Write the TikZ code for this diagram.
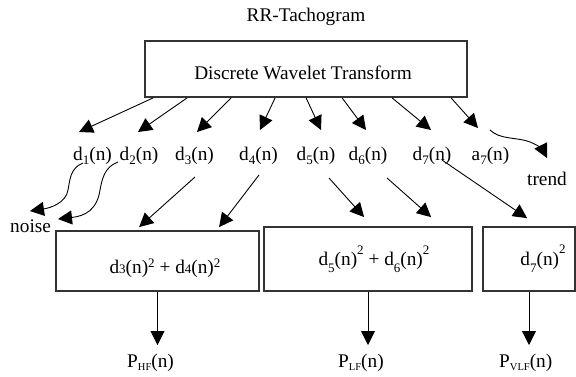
\documentclass[tikz,border=0pt]{standalone}
\usepackage{fontspec}
\setmainfont{Liberation Serif}
\usetikzlibrary{arrows.meta}
\newcommand{\fs}{\fontsize{19.3}{22}\selectfont}
\newcommand{\smd}{\fontsize{13}{13}\selectfont}
\newcommand{\sbx}[2]{\raisebox{#1}{\smd #2}}
\newcommand{\psub}[1]{\raisebox{-3pt}{\fontsize{10.5}{10.5}\selectfont #1}}
\begin{document}
\begin{tikzpicture}[x=1pt,y=-1pt,
  every node/.style={font=\fs, inner sep=0pt},
  box/.style={draw=black!80, line width=1.8pt},
  arr/.style={-{Triangle[length=14pt,width=14pt]}, line width=0.9pt},
  lbl/.style={anchor=base}]
\useasboundingbox (0,0) rectangle (576,376);

% title and DWT box
\node[lbl] (title) at (306,21) {RR-Tachogram};
\node[box, minimum width=322pt, minimum height=56pt] (dwt) at (306,69) {};
\node[lbl] (dwttext) at (303,79) {Discrete Wavelet Transform};

% coefficient labels
\node[lbl] (d1) at (92.5,160) {d\sbx{-0.25em}{1}(n)};
\node[lbl] (d2) at (139,160) {d\sbx{-0.25em}{2}(n)};
\node[lbl] (d3) at (194.5,160) {d\sbx{-0.25em}{3}(n)};
\node[lbl] (d4) at (258.5,160) {d\sbx{-0.25em}{4}(n)};
\node[lbl] (d5) at (316,160) {d\sbx{-0.25em}{5}(n)};
\node[lbl] (d6) at (368,160) {d\sbx{-0.25em}{6}(n)};
\node[lbl] (d7) at (432,160) {d\sbx{-0.25em}{7}(n)};
\node[lbl] (a7) at (490.5,160) {a\sbx{-0.25em}{7}(n)};
\node[lbl] (trend) at (547,185) {trend};
\node[anchor=base west] (noise) at (10,232) {noise};

% boxes
\node[box, minimum width=203pt, minimum height=60pt] (hfbox) at (157.5,261) {};
\node[lbl] (hftext) at (165,273) {d\sbx{0pt}{3}(n)\sbx{0.3em}{2} + d\sbx{0pt}{4}(n)\sbx{0.3em}{2}};
\node[box, minimum width=208pt, minimum height=64pt] (lfbox) at (368,259) {};
\node[lbl] (lftext) at (374,265) {d\sbx{-0.4em}{5}(n)\sbx{0.55em}{2} + d\sbx{-0.4em}{6}(n)\sbx{0.55em}{2}};
\node[box, minimum width=92pt, minimum height=64pt] (vlfbox) at (529,259) {};
\node[lbl] (vlftext) at (543,265) {d\sbx{-0.4em}{7}(n)\sbx{0.6em}{2}};

% output labels
\node[anchor=base west] (phf) at (127,367) {P\psub{HF}(n)};
\node[anchor=base west] (plf) at (338,367) {P\psub{LF}(n)};
\node[anchor=base west] (pvlf) at (499,367) {P\psub{VLF}(n)};

% free ends
\coordinate (t1) at (79,132);
\coordinate (t2) at (138,132);
\coordinate (t3) at (197,132);
\coordinate (t4) at (260,130);
\coordinate (t5) at (321,130);
\coordinate (t6) at (366,130);
\coordinate (t7) at (431,130);
\coordinate (t8) at (478,128);
\coordinate (s3) at (195,177);
\coordinate (s4) at (259,175);
\coordinate (s5) at (329,178);
\coordinate (s6) at (387,178);
\coordinate (s7) at (442,160);
\coordinate (c1s) at (83,163);
\coordinate (c2s) at (118,162);
\coordinate (c1e) at (30,211);
\coordinate (c2e) at (58,219);
\coordinate (c3s) at (490,130);
\coordinate (c3e) at (547,158);
\coordinate (hfTip) at (157.5,345);
\coordinate (lfTip) at (368,345);
\coordinate (vlfTip) at (529,345);

% DWT outputs
\draw[arr] ([xshift=9pt]dwt.south west) -- (t1);
\draw[arr] ([xshift=43pt]dwt.south west) -- (t2);
\draw[arr] ([xshift=87pt]dwt.south west) -- (t3);
\draw[arr] ([xshift=131pt]dwt.south west) -- (t4);
\draw[arr] ([xshift=162pt]dwt.south west) -- (t5);
\draw[arr] ([xshift=198pt]dwt.south west) -- (t6);
\draw[arr] ([xshift=248pt]dwt.south west) -- (t7);
\draw[arr] ([xshift=307pt]dwt.south west) -- (t8);

% to noise and trend
\draw[arr] (c1s) .. controls (70,168) and (70,180) .. (68,190)
  .. controls (66,203) and (50,208) .. (c1e);
\draw[arr] (c2s) .. controls (104,167) and (102,180) .. (100,190)
  .. controls (97,210) and (85,216) .. (c2e);
\draw[arr] (c3s) .. controls (500,140) and (518,137) .. (530,142)
  .. controls (538,145) and (543,150) .. (c3e);

% to boxes
\draw[arr] (s3) -- ([xshift=84pt,yshift=3pt]hfbox.north west);
\draw[arr] (s4) -- ([xshift=164pt,yshift=3pt]hfbox.north west);
\draw[arr] (s5) -- ([xshift=101pt,yshift=9pt]lfbox.north west);
\draw[arr] (s6) -- ([xshift=168pt,yshift=9pt]lfbox.north west);
\draw[arr] (s7) -- ([xshift=45pt,yshift=8pt]vlfbox.north west);

% box outputs
\draw[arr] (hfbox.south) -- (hfTip);
\draw[arr] (lfbox.south) -- (lfTip);
\draw[arr] (vlfbox.south) -- (vlfTip);
\end{tikzpicture}
\end{document}
